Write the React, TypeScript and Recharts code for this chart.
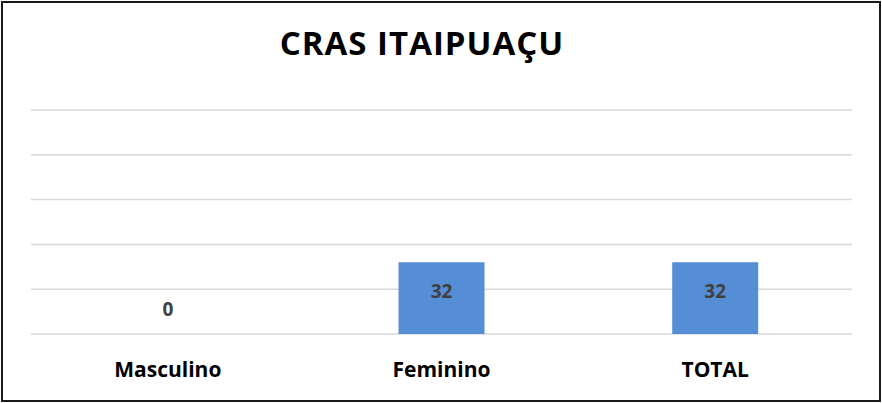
import React from 'react';
import { BarChart, Bar, XAxis, YAxis, CartesianGrid, LabelList } from 'recharts';

const categories = ['Masculino', 'Feminino', 'TOTAL'];
const values = [0, 32, 32];
const yTicks = [0, 20, 40, 60, 80, 100];
const title = 'CRAS ITAIPUAÇU';

const data = categories.map((name, i) => ({ name, value: values[i] }));

const FONT = '"Open Sans", sans-serif';

const CatTick = (props: any) => {
  const { x, y, payload, index } = props;
  const v = values[index];
  return (
    <g>
      {v === 0 ? (
        <text x={x} y={y} dy={-18} textAnchor="middle" fontFamily={FONT} fontWeight={700} fontSize={19} fill="#404040">
          {v}
        </text>
      ) : null}
      <text x={x} y={y} dy={43} textAnchor="middle" fontFamily={FONT} fontWeight={700} fontSize={21} fill="#000">
        {payload.value}
      </text>
    </g>
  );
};

const ValueLabel = (props: any) => {
  const { x, y, width, value } = props;
  if (!(value > 0)) return null;
  return (
    <text x={x + width / 2} y={y + 36} textAnchor="middle" fontFamily={FONT} fontWeight={700} fontSize={19} fill="#404040">
      {value}
    </text>
  );
};

export default function App() {
  return (
    <div style={{ position: 'absolute', left: 0, top: 0, width: 882, height: 403, background: '#fff' }}>
      <div
        style={{
          position: 'absolute',
          left: 1,
          top: 1,
          width: 880,
          height: 401,
          boxSizing: 'border-box',
          border: '2px solid #1a1a1a',
        }}
      />
      <svg style={{ position: 'absolute', left: 0, top: 0 }} width={882} height={403}>
        <text x={422} y={55} textAnchor="middle" fontFamily={FONT} fontWeight={700} fontSize={33} letterSpacing={1} fill="#000">
          {title}
        </text>
      </svg>
      <div style={{ position: 'absolute', left: 0, top: 0 }}>
        <BarChart width={882} height={403} data={data} margin={{ top: 110, right: 30, bottom: 0, left: 31 }} barCategoryGap="34.3%">
          <CartesianGrid horizontal vertical={false} stroke="#d9d9d9" strokeWidth={1.5} />
          <YAxis hide domain={[0, 100]} ticks={yTicks} width={0} />
          <XAxis dataKey="name" axisLine={false} tickLine={false} tickSize={0} tickMargin={0} tick={<CatTick />} height={69} interval={0} />
          <Bar dataKey="value" fill="#558ED5" isAnimationActive={false}>
            <LabelList dataKey="value" content={<ValueLabel />} />
          </Bar>
        </BarChart>
      </div>
    </div>
  );
}
